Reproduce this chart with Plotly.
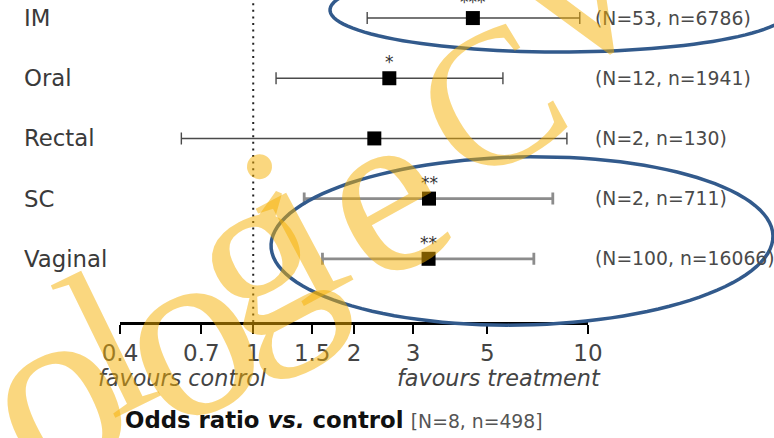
import numpy as np
import plotly.graph_objects as go

# Forest plot: odds ratio of treatment vs. control by administration route
routes = ["IM", "Oral", "Rectal", "SC", "Vaginal"]
odds_ratio = [4.53, 2.55, 2.30, 3.35, 3.34]
ci_low = [2.19, 1.17, 0.61, 1.42, 1.61]
ci_high = [9.45, 5.57, 8.65, 7.85, 6.89]
significance = ["***", "*", "", "**", "**"]
n_trials = [53, 12, 2, 2, 100]
n_patients = [6786, 1941, 130, 711, 16066]

tick_values = [0.4, 0.7, 1, 1.5, 2, 3, 5, 10]
tick_labels = ["0.4", "0.7", "1", "1.5", "2", "3", "5", "10"]

control_trials = 8
control_patients = 498

W, H = 774, 438
FONT = "DejaVu Sans"
TEXT = "#3a3a3a"

# rows drawn top to bottom
row_pos = [len(routes) - 1 - i for i in range(len(routes))]

# line style per row (the last two rows are drawn heavier)
row_line_width = [1.4, 1.4, 1.4, 2.8, 2.8]
row_line_color = ["#4a4a4a", "#4a4a4a", "#4a4a4a", "#8c8c8c", "#8c8c8c"]


def px(x, y):
    """Pixel position in the figure -> paper coordinates."""
    return x / W, 1 - y / H


fig = go.Figure()

# reference line at OR = 1
fig.add_shape(type="line", xref="x", yref="paper", x0=1, x1=1,
              y0=px(0, 322)[1], y1=1,
              line=dict(color="#222222", width=2, dash="2px,4.6px"), layer="below")

for i, r in enumerate(routes):
    fig.add_trace(go.Scatter(
        x=[odds_ratio[i]], y=[row_pos[i]], mode="markers",
        marker=dict(symbol="square", size=14, color="black"),
        error_x=dict(type="data", symmetric=False,
                     array=[ci_high[i] - odds_ratio[i]],
                     arrayminus=[odds_ratio[i] - ci_low[i]],
                     color=row_line_color[i], thickness=row_line_width[i], width=6),
        showlegend=False, hoverinfo="skip", cliponaxis=False))

annotations = []
for i, r in enumerate(routes):
    annotations.append(dict(
        x=px(22, 0)[0], xref="paper", y=row_pos[i], yref="y",
        text=r, showarrow=False, xanchor="left", yanchor="middle",
        font=dict(family=FONT, size=22.8, color=TEXT)))
    annotations.append(dict(
        x=px(593, 0)[0], xref="paper", y=row_pos[i], yref="y",
        text=f"(N={n_trials[i]}, n={n_patients[i]})", showarrow=False,
        xanchor="left", yanchor="middle",
        font=dict(family=FONT, size=18.8, color="#4a4a4a")))
    if significance[i]:
        annotations.append(dict(
            x=np.log10(odds_ratio[i]), xref="x", y=row_pos[i], yref="y",
            text=significance[i], showarrow=False, xanchor="center",
            yanchor="middle", yshift=16,
            font=dict(family=FONT, size=17, color="#333333")))

# direction labels under the axis
annotations.append(dict(x=px(182, 0)[0], y=px(0, 378)[1], xref="paper", yref="paper",
                        xanchor="center", yanchor="middle",
                        text="<i>favours control</i>", showarrow=False,
                        font=dict(family=FONT, size=22.3, color="#444444")))
annotations.append(dict(x=px(499, 0)[0], y=px(0, 378)[1], xref="paper", yref="paper",
                        xanchor="center", yanchor="middle",
                        text="<i>favours treatment</i>", showarrow=False,
                        font=dict(family=FONT, size=22.3, color="#444444")))

# axis title
annotations.append(dict(
    x=px(123, 0)[0], y=px(0, 420)[1], xref="paper", yref="paper",
    xanchor="left", yanchor="middle", showarrow=False,
    text=("<b>Odds ratio <i>vs.</i> control</b> "
          f"<span style='font-size:18.8px;color:#555555'>[N={control_trials}, "
          f"n={control_patients}]</span>"),
    font=dict(family=FONT, size=22.8, color="#111111")))


def ellipse_path(cx, cy, rx, ry, angle_deg=0.0, n=120):
    t = np.linspace(0, 2 * np.pi, n)
    a = np.radians(angle_deg)
    xs = cx + rx * np.cos(t) * np.cos(a) - ry * np.sin(t) * np.sin(a)
    ys = cy + rx * np.cos(t) * np.sin(a) + ry * np.sin(t) * np.cos(a)
    pts = [px(x, y) for x, y in zip(xs, ys)]
    return "M " + " L ".join(f"{x:.5f},{y:.5f}" for x, y in pts) + " Z"


ELLIPSE = "#325a8c"
fig.add_shape(type="path", xref="paper", yref="paper",
              path=ellipse_path(560, 10, 230, 42),
              line=dict(color=ELLIPSE, width=3.5), layer="above")
fig.add_shape(type="path", xref="paper", yref="paper",
              path=ellipse_path(522, 241, 251, 84, -1.2),
              line=dict(color=ELLIPSE, width=3.5), layer="above")

# watermark, set letter by letter along a rising curve
# (glyph, centre x px, centre y px, rotation deg, font size)
watermark = [
    ("o", 52, 388, 26, 250),
    ("l", 106, 342, 26, 212),
    ("o", 184, 330, 27, 250),
    ("g", 255, 250, 28, 240),
    ("i", 291, 222, 28, 236),
    ("e", 379, 192, 29, 240),
    ("C", 490, 100, 30, 195),
    ("V", 575, -7, 31, 200),
]
for ch, cx, cy, ang, size in watermark:
    wx, wy = px(cx, cy)
    annotations.append(dict(
        x=wx, y=wy, xref="paper", yref="paper", text=ch, showarrow=False,
        textangle=-ang, xanchor="center", yanchor="middle",
        font=dict(family="Liberation Serif", size=size,
                  color="rgba(245,175,0,0.5)")))

fig.update_layout(
    width=W, height=H,
    margin=dict(l=0, r=0, t=0, b=0, autoexpand=False),
    paper_bgcolor="white", plot_bgcolor="white",
    showlegend=False,
    annotations=annotations,
    xaxis=dict(type="log", domain=[120 / W, 588 / W],
               range=[np.log10(0.4), 1],
               tickvals=tick_values, ticktext=tick_labels,
               showgrid=False, zeroline=False, automargin=False,
               showline=True, linecolor="black", linewidth=2.5,
               ticks="outside", ticklen=9, tickwidth=2, tickcolor="black",
               tickfont=dict(family=FONT, size=23, color="#444444")),
    yaxis=dict(domain=[1 - 322 / H, 1], range=[-1.05, 4.3], automargin=False,
               visible=False, showgrid=False, zeroline=False),
)

fig.write_html("out.html")
